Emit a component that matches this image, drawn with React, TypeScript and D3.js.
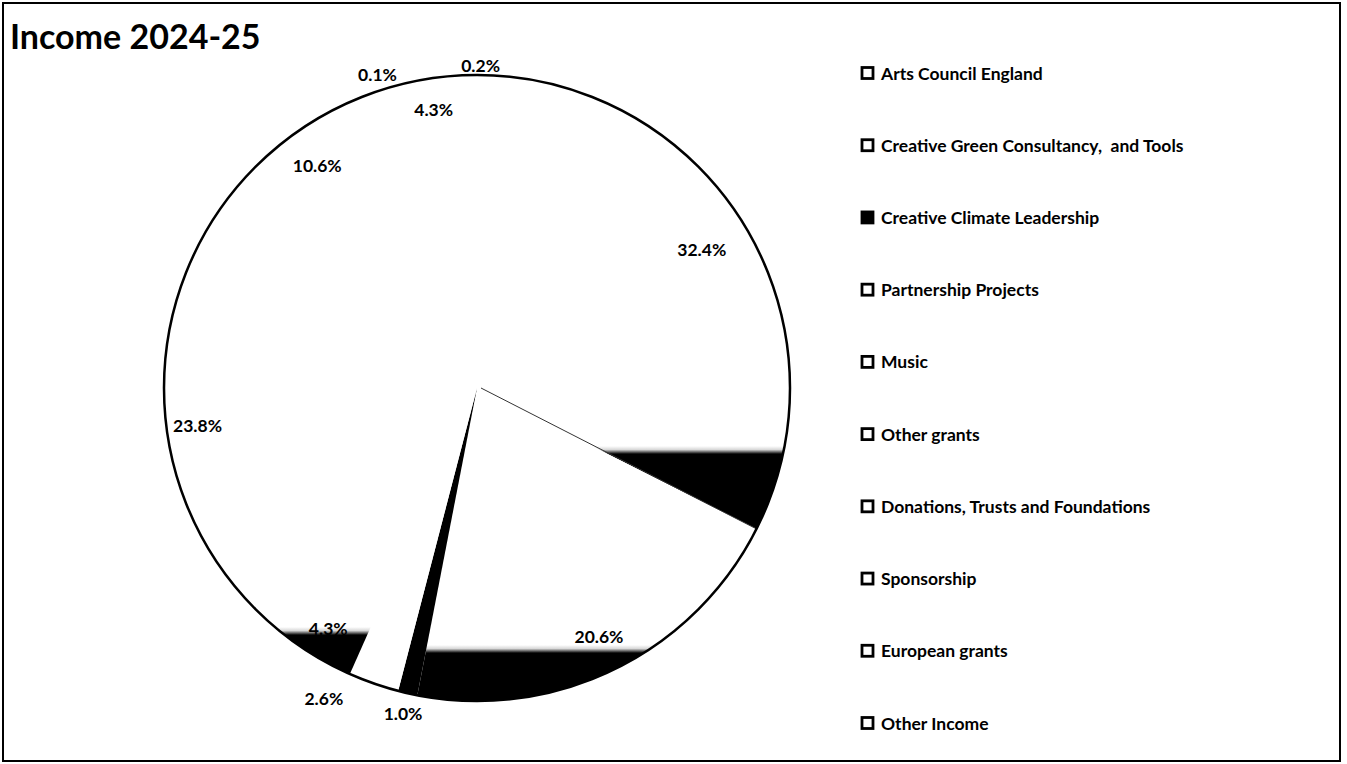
import React from "react";
import * as d3 from "d3";

const categories = [
  "Arts Council England",
  "Creative Green Consultancy,  and Tools",
  "Creative Climate Leadership",
  "Partnership Projects",
  "Music",
  "Other grants",
  "Donations, Trusts and Foundations",
  "Sponsorship",
  "European grants",
  "Other Income",
];
const values = [32.4, 20.6, 1.0, 2.6, 4.3, 23.8, 10.6, 4.3, 0.1, 0.2];
const title = "Income 2024-25";

// styling (not data)
const W = 1347, H = 764;
const cx = 477, cy = 388, R = 313;
// y thresholds where scanned fill turns black (null = plain white, "solid" = black)
const fillMode: (number | null | "solid")[] = [452, 651, "solid", null, 633, null, null, null, null, null];
const labelR = [264, 277, 334, 346, 283, 282, 274, 282, 329, 323];
const labelShift = [0, 0, 0, 7, 0, 0, 0, 0, -16.7, 1.0]; // degrees
const font = "Lato, 'Open Sans', sans-serif";

export default function App() {
  const pie = d3.pie<number>().sort(null).value((d) => d);
  const arcs = pie(values);
  const arcGen = d3.arc<d3.PieArcDatum<number>>().innerRadius(0).outerRadius(R);
  const legendY = d3.scalePoint<number>().domain(d3.range(categories.length)).range([73, 723]);
  const endA = arcs[0].endAngle;

  return (
    <svg width={W} height={H} style={{ position: "absolute", left: 0, top: 0, background: "#fff" }}>
      <defs>
        {fillMode.map((m, i) =>
          typeof m === "number" ? (
            <linearGradient key={i} id={`g${i}`} gradientUnits="userSpaceOnUse" x1={0} y1={m - cy - 6} x2={0} y2={m - cy + 2}>
              <stop offset="0" stopColor="#fff" />
              <stop offset="0.45" stopColor="#d8d8d8" />
              <stop offset="1" stopColor="#000" />
            </linearGradient>
          ) : null
        )}
      </defs>
      <rect x={3} y={3} width={1337} height={758} fill="#fff" stroke="#000" strokeWidth={2} />
      <text x={10} y={49} fontFamily={font} fontWeight={700} fontSize={34} fill="#000">
        {title}
      </text>
      <g transform={`translate(${cx},${cy})`}>
        {arcs.map((a, i) => {
          const m = fillMode[i];
          const fill = m === "solid" ? "#000" : typeof m === "number" ? `url(#g${i})` : "#fff";
          return <path key={i} d={arcGen(a) || ""} fill={fill} stroke="none" />;
        })}
        <line x1={4} y1={0} x2={R * Math.sin(endA)} y2={-R * Math.cos(endA)} stroke="#333" strokeWidth={1} />
        <circle r={R} fill="none" stroke="#000" strokeWidth={2.5} />
        {arcs.map((a, i) => {
          const ang = (a.startAngle + a.endAngle) / 2 + (labelShift[i] * Math.PI) / 180;
          const x = labelR[i] * Math.sin(ang);
          const y = -labelR[i] * Math.cos(ang);
          return (
            <text key={i} x={x} y={y} textAnchor="middle" dominantBaseline="central" fontFamily={font} fontWeight={700} fontSize={17.5} fill="#000">
              {values[i].toFixed(1)}%
            </text>
          );
        })}
      </g>
      <g>
        {categories.map((c, i) => {
          const y = legendY(i) as number;
          return (
            <g key={i} transform={`translate(862,${y})`}>
              <rect x={0} y={-5.5} width={11} height={11} fill={i === 2 ? "#000" : "#fff"} stroke="#000" strokeWidth={2.8} />
              <text x={19} y={0} dominantBaseline="central" fontFamily={font} fontWeight={700} fontSize={17.5} fill="#000" style={{ whiteSpace: "pre" }}>
                {c}
              </text>
            </g>
          );
        })}
      </g>
    </svg>
  );
}
